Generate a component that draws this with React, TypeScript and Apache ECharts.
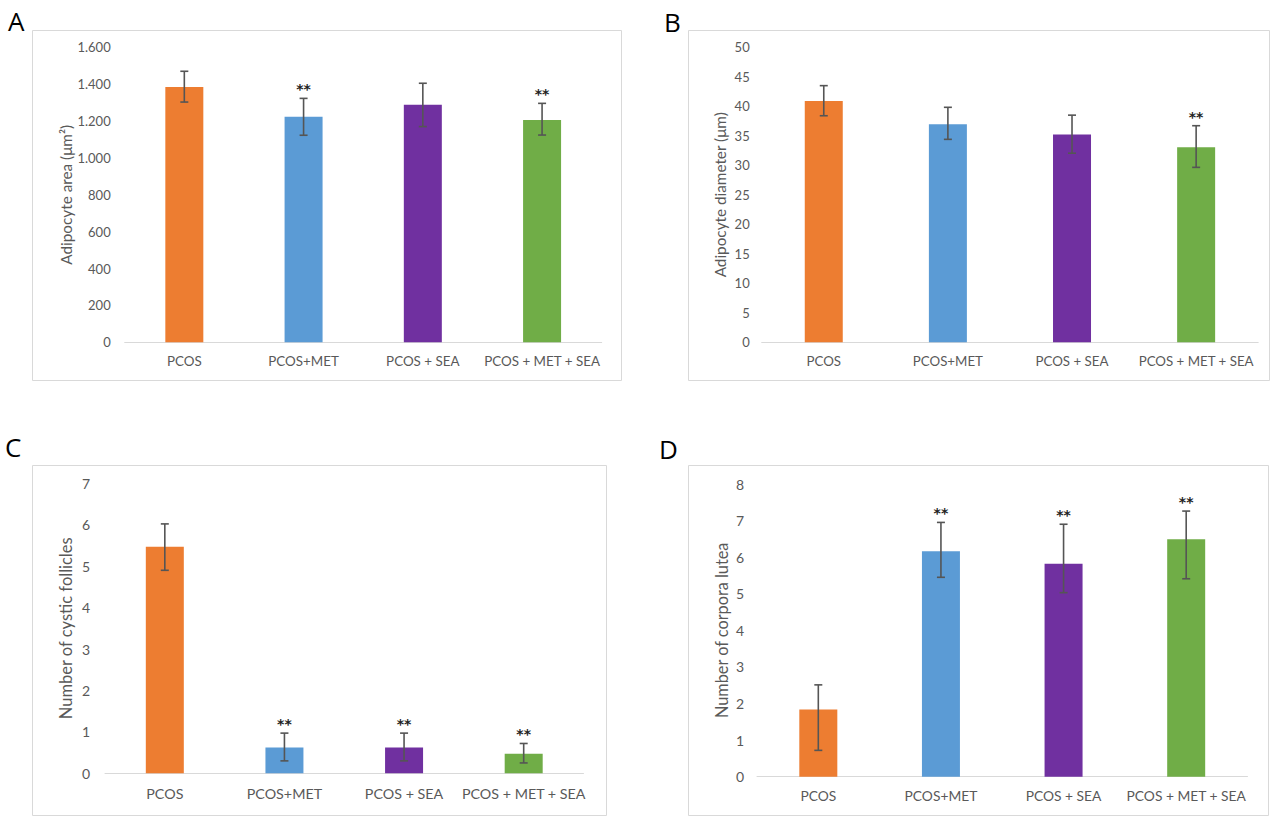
import React, { useEffect, useRef } from "react";
import * as echarts from "echarts";

const categories = ["PCOS", "PCOS+MET", "PCOS + SEA", "PCOS + MET + SEA"];
const barColors = ["#ED7D31", "#5B9BD5", "#7030A0", "#70AD47"];

// A: Adipocyte area
const areaMean = [1385, 1223, 1289, 1206];
const areaErrLow = [82, 100, 119, 82];
const areaErrHigh = [85, 100, 116, 90];
const areaSig = ["", "**", "", "**"];
const areaTicks = { min: 0, max: 1600, interval: 200 };

// B: Adipocyte diameter
const diamMean = [40.9, 36.95, 35.2, 33.05];
const diamErrLow = [2.5, 2.55, 3.15, 3.4];
const diamErrHigh = [2.6, 2.88, 3.3, 3.66];
const diamSig = ["", "", "", "**"];
const diamTicks = { min: 0, max: 50, interval: 5 };

// C: Number of cystic follicles
const cysticMean = [5.47, 0.62, 0.62, 0.47];
const cysticErrLow = [0.57, 0.32, 0.32, 0.22];
const cysticErrHigh = [0.55, 0.35, 0.35, 0.25];
const cysticSig = ["", "**", "**", "**"];
const cysticTicks = { min: 0, max: 7, interval: 1 };

// D: Number of corpora lutea
const luteaMean = [1.84, 6.16, 5.82, 6.49];
const luteaErrLow = [1.12, 0.71, 0.79, 1.08];
const luteaErrHigh = [0.67, 0.79, 1.08, 0.77];
const luteaSig = ["", "**", "**", "**"];
const luteaTicks = { min: 0, max: 8, interval: 1 };

const FONT = "Lato, 'Open Sans', sans-serif";
const TXT = "#595959";

function fmtThousands(v: number): string {
  if (v >= 1000) {
    const th = Math.floor(v / 1000);
    const rest = v % 1000;
    return th + "." + String(rest).padStart(3, "0");
  }
  return String(v);
}

type Panel = {
  grid: { left: number; top: number; width: number; height: number };
  mean: number[];
  lo: number[];
  hi: number[];
  sig: string[];
  ticks: { min: number; max: number; interval: number };
  name: string;
  nameGap: number;
  nameSize: number;
  labelMargin: number;
  labelSize: number;
  xLabelMargin: number;
  xLabelSize: number;
  fmt?: (v: number) => string;
};

const panels: Panel[] = [
  {
    grid: { left: 124.7, top: 47.3, width: 477, height: 295 },
    mean: areaMean, lo: areaErrLow, hi: areaErrHigh, sig: areaSig, ticks: areaTicks,
    name: "Adipocyte area (μm²)", nameGap: 51, nameSize: 15.3,
    labelMargin: 14, labelSize: 13, xLabelMargin: 12, xLabelSize: 13.4,
    fmt: fmtThousands,
  },
  {
    grid: { left: 761.7, top: 47.3, width: 496.5, height: 295 },
    mean: diamMean, lo: diamErrLow, hi: diamErrHigh, sig: diamSig, ticks: diamTicks,
    name: "Adipocyte diameter (μm)", nameGap: 34, nameSize: 15.3,
    labelMargin: 12, labelSize: 13, xLabelMargin: 12, xLabelSize: 13.3,
  },
  {
    grid: { left: 105, top: 483.3, width: 478.5, height: 290 },
    mean: cysticMean, lo: cysticErrLow, hi: cysticErrHigh, sig: cysticSig, ticks: cysticTicks,
    name: "Number of cystic follicles", nameGap: 31, nameSize: 16.5,
    labelMargin: 15, labelSize: 14, xLabelMargin: 13, xLabelSize: 14.3,
  },
  {
    grid: { left: 757, top: 484, width: 490.5, height: 292.7 },
    mean: luteaMean, lo: luteaErrLow, hi: luteaErrHigh, sig: luteaSig, ticks: luteaTicks,
    name: "Number of corpora lutea", nameGap: 28, nameSize: 16.3,
    labelMargin: 13, labelSize: 14, xLabelMargin: 12, xLabelSize: 13.8,
  },
];

const boxes = [
  { x: 32.5, y: 30.5, w: 589, h: 350 },
  { x: 688.5, y: 30.5, w: 581, h: 350 },
  { x: 32.5, y: 465.5, w: 574, h: 350 },
  { x: 688.5, y: 465.5, w: 580, h: 350 },
];
const letters = [
  { t: "A", x: 8, y: 8 },
  { t: "B", x: 664, y: 9 },
  { t: "C", x: 5, y: 434 },
  { t: "D", x: 659, y: 436 },
];

export default function App() {
  const ref = useRef<HTMLDivElement>(null);
  useEffect(() => {
    if (!ref.current) return;
    const chart = echarts.init(ref.current, null, { renderer: "svg" });
    const grids = panels.map((p) => ({ ...p.grid, containLabel: false }));
    const xAxes = panels.map((p, i) => ({
      type: "category",
      gridIndex: i,
      data: categories,
      axisLine: { show: true, lineStyle: { color: "#d9d9d9", width: 1 } },
      axisTick: { show: false },
      axisLabel: { color: TXT, fontFamily: FONT, fontSize: p.xLabelSize, margin: p.xLabelMargin, interval: 0 },
      splitLine: { show: false },
    }));
    const yAxes = panels.map((p, i) => ({
      type: "value",
      gridIndex: i,
      min: p.ticks.min,
      max: p.ticks.max,
      interval: p.ticks.interval,
      axisLine: { show: false },
      axisTick: { show: false },
      splitLine: { show: false },
      axisLabel: {
        color: TXT,
        fontFamily: FONT,
        fontSize: p.labelSize,
        margin: p.labelMargin,
        formatter: p.fmt ? (v: number) => p.fmt!(v) : undefined,
      },
      name: p.name,
      nameLocation: "middle",
      nameGap: p.nameGap,
      nameTextStyle: { color: TXT, fontFamily: FONT, fontSize: p.nameSize },
    }));
    const series: any[] = [];
    panels.forEach((p, pi) => {
      series.push({
        type: "bar",
        xAxisIndex: pi,
        yAxisIndex: pi,
        barWidth: 38,
        data: p.mean.map((v, i) => ({ value: v, itemStyle: { color: barColors[i] } })),
      });
      series.push({
        type: "custom",
        xAxisIndex: pi,
        yAxisIndex: pi,
        clip: false,
        z: 5,
        data: p.mean.map((v, i) => [i, v, p.lo[i], p.hi[i]]),
        renderItem: (params: any, api: any) => {
          const idx = api.value(0);
          const m = api.value(1);
          const lo = api.value(2);
          const hi = api.value(3);
          const top = api.coord([idx, m + hi]);
          const bot = api.coord([idx, m - lo]);
          const cw = 4;
          const st = { stroke: "#555555", lineWidth: 1.6 };
          const children: any[] = [
            { type: "line", shape: { x1: top[0], y1: top[1], x2: bot[0], y2: bot[1] }, style: st },
            { type: "line", shape: { x1: top[0] - cw, y1: top[1], x2: top[0] + cw, y2: top[1] }, style: st },
            { type: "line", shape: { x1: bot[0] - cw, y1: bot[1], x2: bot[0] + cw, y2: bot[1] }, style: st },
          ];
          const s = p.sig[params.dataIndex];
          if (s) {
            children.push({
              type: "text",
              style: {
                text: s,
                x: top[0],
                y: top[1] - 9,
                align: "center",
                verticalAlign: "middle",
                fill: "#222222",
                font: "bold 14px 'DejaVu Sans', sans-serif",
              },
            });
          }
          return { type: "group", children };
        },
      });
    });
    const graphic: any[] = [];
    boxes.forEach((b) =>
      graphic.push({
        type: "rect",
        shape: { x: b.x, y: b.y, width: b.w, height: b.h },
        style: { fill: "none", stroke: "#d9d9d9", lineWidth: 1 },
        silent: true,
      })
    );
    letters.forEach((l) =>
      graphic.push({
        type: "text",
        x: l.x,
        y: l.y,
        style: { text: l.t, fill: "#000000", font: "26px 'Open Sans', sans-serif" },
      })
    );
    chart.setOption({
      animation: false,
      backgroundColor: "#ffffff",
      grid: grids,
      xAxis: xAxes,
      yAxis: yAxes,
      series,
      graphic,
    });
    return () => chart.dispose();
  }, []);
  return (
    <div
      ref={ref}
      style={{ position: "absolute", left: 0, top: 0, width: 1280, height: 817, background: "#fff" }}
    />
  );
}
